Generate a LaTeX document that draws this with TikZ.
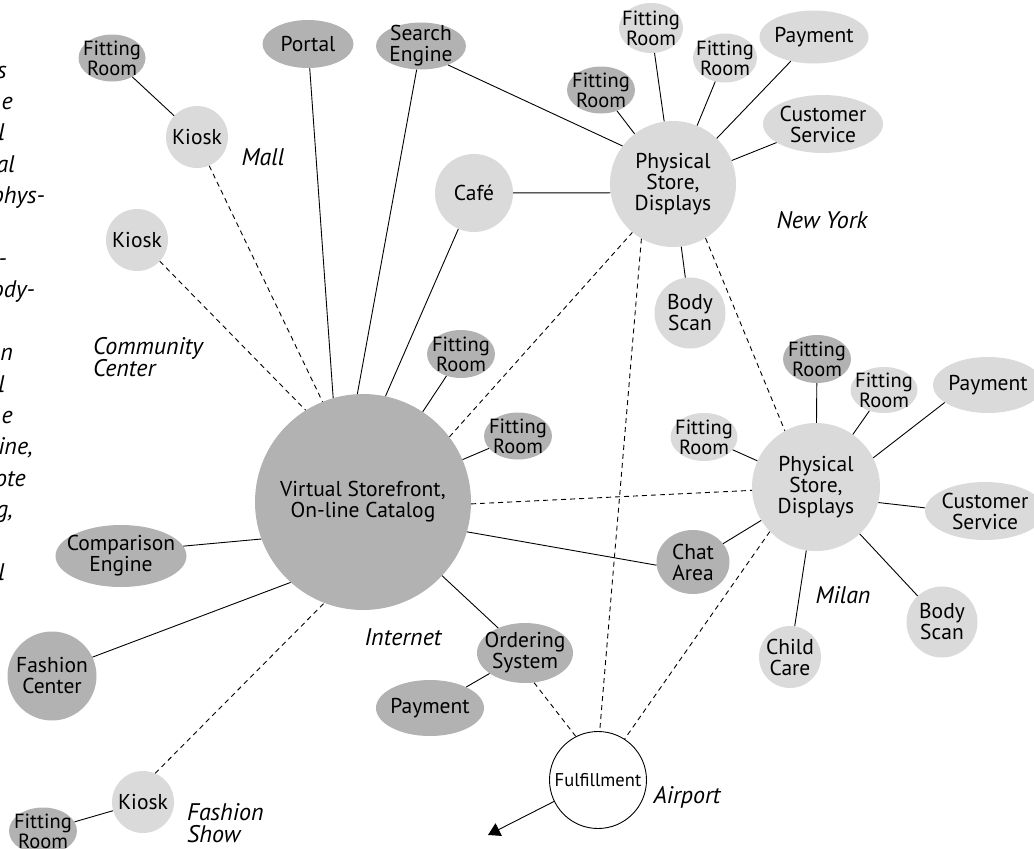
\documentclass[tikz,border=0pt]{standalone}
\usepackage{fontspec}
\setmainfont{PT Sans}
\usepackage{tikz}
\usetikzlibrary{arrows.meta,
                shapes.geometric}
\definecolor{darkfill}{gray}{0.70}
\definecolor{lightfill}{gray}{0.855}
\newcommand{\nodefont}{\fontsize{21.5}{21}\selectfont}
\newcommand{\smallfont}{\fontsize{20.5}{17}\selectfont}
\newcommand{\tinyfont}{\fontsize{18.5}{18}\selectfont}
\newcommand{\placefont}{\fontsize{24}{22.5}\selectfont\itshape}
\tikzstyle{darkcircle} = [circle, fill=darkfill, inner sep=0pt]
\tikzstyle{lightcircle} = [circle, fill=lightfill, inner sep=0pt]
\tikzstyle{darkoval} = [ellipse, fill=darkfill, inner sep=0pt]
\tikzstyle{lightoval} = [ellipse, fill=lightfill, inner sep=0pt]
\tikzstyle{fitting} = [label={[font=\smallfont]center:{Fitting\\Room}}]
\tikzstyle{place} = [font=\placefont, align=left, inner sep=0pt]
\tikzstyle{frag} = [font=\placefont, anchor=base east, inner sep=0pt]
\tikzstyle{link} = [line width=0.9pt]
\tikzstyle{dashedlink} = [line width=0.9pt, dash pattern=on 5pt off 4pt]
\tikzstyle{arrow} = [line width=0.9pt, -{Triangle[length=12pt,width=14pt]}]

\begin{document}
\begin{tikzpicture}[x=1pt, y=-1pt,
    every label/.style={font=\nodefont, align=center, inner sep=0pt}]
        \useasboundingbox (0,0) rectangle (1034,849);

        % cut-off text at the left margin
        \foreach \w/\x/\k in {s/7/0, e/13/1, l/5/2, al/15/3, phys-/45/4, -/7/6, ody-/35/7,
                              n/13/9, l/5/10, e/13/11, {ine,}/33/12, ote/26/13, {g,}/13/14, l/5/16}
            \node[frag] (frag\k) at (\x, 78+31.4*\k) {\w};

        % internet
        \node[darkcircle, minimum size=216, label={center:{Virtual Storefront,\\On-line Catalog}}] (vs) at (363,502) {};
        \node[darkoval, minimum width=91, minimum height=48, label={center:Portal}] (portal) at (308,44) {};
        \node[darkoval, minimum width=90, minimum height=47, label={center:{Search\\Engine}}] (search) at (421,46) {};
        \node[darkoval, minimum width=131, minimum height=62, label={center:{Comparison\\Engine}}] (comp) at (121,556) {};
        \node[darkcircle, minimum size=89, label={center:{Fashion\\Center}}] (fc) at (52,676) {};
        \node[darkoval, fitting, minimum width=68, minimum height=48] (fr5) at (461,354) {};
        \node[darkoval, fitting, minimum width=68, minimum height=47] (fr6) at (518,436) {};
        \node[darkoval, minimum width=73, minimum height=64, label={center:{Chat\\Area}}] (chat) at (693,562) {};
        \node[darkoval, minimum width=96, minimum height=60, label={center:{Ordering\\System}}] (ord) at (525,653) {};
        \node[darkoval, minimum width=108, minimum height=56, label={center:Payment}] (pay3) at (430,708) {};
        \node[place] (internet) at (403,637) {Internet};

        % kiosks
        \node[lightcircle, minimum size=62, label={center:Kiosk}] (ks1) at (197,137) {};
        \node[darkoval, fitting, minimum width=67, minimum height=47] (fr1) at (112,58) {};
        \node[place] (mall) at (263,157) {Mall};
        \node[lightcircle, minimum size=62, label={center:Kiosk}] (ks2) at (137,240) {};
        \node[place, anchor=west] (community) at (93,357) {Community\\Center};
        \node[lightcircle, minimum size=62, label={center:Kiosk}] (ks3) at (143,802) {};
        \node[darkoval, fitting, minimum width=68, minimum height=47] (fr10) at (43,831) {};
        \node[place, anchor=west] (fashionshow) at (187,823) {Fashion\\Show};

        % new york
        \node[lightcircle, minimum size=126, label={center:{Physical\\Store,\\Displays}}] (nys) at (673,184) {};
        \node[lightcircle, minimum size=78, label={center:Café}] (cafe) at (474,193) {};
        \node[darkoval, fitting, minimum width=68, minimum height=47] (fr2) at (601,90) {};
        \node[lightoval, fitting, minimum width=64, minimum height=50] (fr3) at (651,28) {};
        \node[lightoval, fitting, minimum width=64, minimum height=49] (fr4) at (725,58) {};
        \node[lightoval, minimum width=109, minimum height=53, label={center:Payment}] (pay1) at (814,37) {};
        \node[lightoval, minimum width=120, minimum height=58, label={center:{Customer\\Service}}] (cs1) at (823,124) {};
        \node[lightcircle, minimum size=71, label={center:{Body\\Scan}}] (body1) at (690,313) {};
        \node[place] (newyork) at (822,220) {New York};

        % milan
        \node[lightcircle, minimum size=128, label={center:{Physical\\Store,\\Displays}}] (ms) at (816,487) {};
        \node[darkoval, fitting, minimum width=68, minimum height=48] (fr7) at (817,359) {};
        \node[lightoval, fitting, minimum width=67, minimum height=46] (fr8) at (884,390) {};
        \node[lightoval, fitting, minimum width=67, minimum height=48] (fr9) at (704,437) {};
        \node[lightoval, minimum width=110, minimum height=56, label={center:Payment}] (pay2) at (988,385) {};
        \node[lightoval, minimum width=120, minimum height=58, label={center:{Customer\\Service}}] (cs2) at (985,511) {};
        \node[lightcircle, minimum size=71, label={center:{Body\\Scan}}] (body2) at (942,622) {};
        \node[lightcircle, minimum size=62, label={center:{Child\\Care}}] (child) at (790,657) {};
        \node[place] (milan) at (843,595) {Milan};

        % airport
        \node[circle, draw, line width=0.9pt, minimum size=97, inner sep=0pt, label={[font=\tinyfont]center:Fulfillment}] (ful) at (598,780) {};
        \node[place] (airport) at (687,797) {Airport};
        \coordinate (drop) at (488,835);

        \draw[link] (fr1) -- (ks1);
        \draw[link] (portal) -- (vs.106);
        \draw[link] (search) -- (vs.93);
        \draw[link] (cafe) -- (vs.78);
        \draw[link] (fr5) -- (vs);
        \draw[link] (fr6) -- (vs);
        \draw[link] (comp.9) -- (vs.200);
        \draw[link] (fc.25) -- (vs.228);
        \draw[link] (vs.-16) -- (chat.185);
        \draw[link] (vs) -- (ord);
        \draw[link] (ord) -- (pay3);
        \draw[link] (ks3) -- (fr10);
        \draw[link] (search.-35) -- (nys.143);
        \draw[link] (cafe) -- (nys.188);
        \draw[link] (fr2) -- (nys);
        \draw[link] (fr3) -- (nys);
        \draw[link] (fr4) -- (nys);
        \draw[link] (pay1) -- (nys);
        \draw[link] (cs1) -- (nys);
        \draw[link] (body1) -- (nys);
        \draw[link] (chat) -- (ms);
        \draw[link] (fr7) -- (ms);
        \draw[link] (fr8) -- (ms);
        \draw[link] (fr9) -- (ms);
        \draw[link] (pay2.202) -- (ms.27);
        \draw[link] (cs2.177) -- (ms.-14);
        \draw[link] (body2) -- (ms);
        \draw[link] (child) -- (ms);
        \draw[dashedlink] (ks1.-67) -- (vs.112);
        \draw[dashedlink] (ks2.-43) -- (vs.122);
        \draw[dashedlink] (ks3.67) -- (vs.249);
        \draw[dashedlink] (vs.37) -- (nys.230);
        \draw[dashedlink] (vs.-1) -- (ms.183);
        \draw[dashedlink] (nys.301) -- (ms.119);
        \draw[dashedlink] (nys.240) -- (ful.88);
        \draw[dashedlink] (ms.224) -- (ful.57);
        \draw[dashedlink] (ord.-73) -- (ful.117);
        \draw[arrow] (ful.206) -- (drop);
    \end{tikzpicture}
\end{document}
